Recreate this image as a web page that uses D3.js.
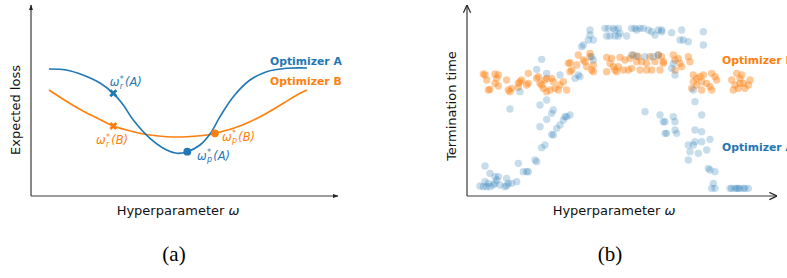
<!DOCTYPE html>
<html>
<head>
<meta charset="utf-8">
<script src="https://cdn.jsdelivr.net/npm/d3@7"></script>
<style>
  html, body { margin: 0; padding: 0; background: #fff; }
  svg { display: block; }
  text { font-family: "DejaVu Sans", sans-serif; }
</style>
</head>
<body>
<svg id="chart" width="787" height="278"></svg>
<script>
// ---------- Panel (a): expected loss curves ----------
const curveAx = [1.8, 3.5, 5.2, 6.9, 8.23, 9.23, 10.23, 11.9, 13.57, 14.57, 15.63, 16.9, 17.9, 18.9, 20.23, 21.9, 23.57, 25.57, 27.6];
const curveAy = [12.7, 12.6, 12.1, 11.3, 10.27, 9.1, 7.6, 5.77, 4.6, 4.27, 4.43, 5.1, 6.2, 7.93, 9.93, 11.6, 12.43, 12.77, 12.8];
const curveBx = [1.8, 3.5, 5.2, 6.9, 8.23, 10.23, 11.9, 13.57, 15.57, 17.57, 18.4, 20.23, 21.9, 23.57, 25.23, 26.9, 27.6];
const curveBy = [10.6, 9.5, 8.5, 7.65, 7.0, 6.43, 6.1, 5.93, 5.93, 6.1, 6.27, 6.77, 7.43, 8.27, 9.27, 10.27, 10.6];
// optimum markers: [x, y]
const robustA = [8.23, 10.27], robustB = [8.23, 7.0];
const peakA = [15.63, 4.43], peakB = [18.4, 6.27];
const seriesNames = ["Optimizer A", "Optimizer B"];
const panelLabels = ["(a)", "(b)"];

// ---------- Panel (b): termination time scatter ----------
const pointsB = [
  [13.0,37.8],[13.5,37.5],[16.5,37.8],[17.5,37.5],[17.0,36.5],[16.5,35.0],[15.0,33.2],[14.5,33.0],[14.0,36.0],[17.5,34.2],
  [20.0,36.0],[20.5,33.0],[21.0,32.5],[21.5,33.5],[23.5,35.0],[24.0,35.5],[24.5,36.0],[23.5,33.8],[26.5,38.0],[26.0,34.5],[26.5,35.0],
  [29.0,36.5],[29.5,37.0],[30.0,35.0],[30.5,34.5],[31.0,33.5],[31.5,36.0],[32.0,36.5],[32.0,32.5],[33.0,33.0],[33.5,36.5],
  [34.0,35.5],[34.5,33.5],[35.5,33.0],[36.0,34.5],[37.0,35.5],[38.0,33.0],[38.5,41.0],[39.0,38.5],
  [41.5,43.5],[39.0,41.2],[39.5,39.0],[41.0,40.5],[43.0,42.0],[43.5,41.5],[44.0,40.0],[45.0,43.0],[45.0,44.0],[45.5,39.0],[46.0,38.5],[46.0,40.5],
  [50.0,42.8],[51.0,41.0],[50.0,38.5],[51.5,42.5],[52.0,40.0],[52.5,39.0],[53.0,38.5],[53.5,40.0],[54.0,42.8],[55.0,39.0],[55.5,42.0],[56.5,39.0],
  [57.0,42.5],[57.5,39.5],[58.0,43.5],[59.0,41.5],[59.5,43.0],[60.0,39.0],[60.5,41.5],[62.0,41.0],[62.0,39.0],[63.0,43.0],[63.5,39.0],
  [64.5,41.5],[65.5,43.5],[66.0,39.0],[66.5,43.0],[67.0,41.0],[67.0,41.5],
  [70.0,43.5],[70.5,42.0],[71.5,42.5],[72.0,41.0],[72.5,40.0],[74.5,43.0],[75.0,41.5],[70.5,39.0],
  [76.0,37.5],[76.0,35.5],[75.5,33.5],[77.0,36.5],[77.0,34.5],[78.0,37.0],[78.5,35.5],[78.5,33.0],[79.0,37.5],[80.0,35.0],
  [81.0,34.0],[81.5,33.0],[81.5,38.0],[82.5,37.0],[83.0,36.0],
  [87.5,36.0],[88.0,33.0],[88.5,34.5],[89.0,38.0],[89.5,33.5],[90.0,36.5],[90.0,35.0],[90.5,37.5],[91.0,35.0],[91.5,33.5],[92.5,34.5],[93.0,36.0]
];
const pointsA = [
  [30.5,42.2],[29.0,39.2],[32.0,38.0],[36.0,37.5],[24.0,32.5],[21.0,27.3],[32.0,30.0],[30.0,28.5],[34.0,27.0],[32.0,24.2],
  [30.0,22.0],[33.5,26.0],[37.0,24.0],[37.5,25.0],[38.0,25.0],[39.0,25.5],[36.0,22.5],[35.0,21.5],[34.0,19.5],[33.5,19.7],
  [31.5,16.5],[30.5,15.7],[28.5,12.0],[29.0,11.5],[26.0,8.5],[26.5,8.5],[25.0,8.5],[23.5,11.0],
  [13.5,10.2],[15.0,8.0],[17.5,7.0],[16.5,7.0],[17.0,6.0],[16.5,5.0],[16.0,4.5],[15.0,4.0],[14.0,4.0],[13.0,4.0],[12.0,4.2],
  [13.5,5.5],[20.0,6.5],[20.5,5.0],[20.0,4.3],[21.5,5.0],[23.0,5.5],[18.0,4.5],[19.5,4.0],[14.5,5.0],
  [49.5,51.5],[50.5,51.5],[52.0,51.5],[52.5,51.0],[53.5,51.5],[54.0,50.0],[50.0,49.2],[51.0,49.2],[52.5,49.2],[53.5,49.2],
  [56.0,49.2],[57.5,51.5],[58.5,51.5],[59.0,51.0],[60.0,51.5],[61.0,51.5],[62.5,51.0],[63.5,50.5],[64.5,49.5],[65.5,51.0],
  [66.5,51.0],[45.0,51.0],[45.0,49.5],[44.5,48.0],[46.0,48.0],[43.0,46.5],[42.5,46.0],[45.5,43.0],[46.0,42.0],
  [41.5,37.5],[40.5,36.5],[42.0,37.0],[61.5,26.5],[66.0,25.5],[67.0,23.5],[67.5,20.0],
  [57.5,43.5],[59.0,43.2],[61.5,43.0],[64.0,43.0],[65.5,43.5],
  [66.5,50.5],[69.5,50.2],[72.5,51.0],[72.0,48.0],[73.0,48.0],[74.5,47.5],[79.0,50.5],[79.0,46.5],
  [70.0,41.0],[70.5,37.5],[69.5,39.5],[76.0,33.0],[76.5,29.5],[78.5,25.5],
  [70.0,25.0],[70.5,23.5],[67.5,23.5],[68.0,20.0],[70.5,21.0],[71.0,20.0],[76.5,21.0],[78.5,20.5],[81.0,18.2],
  [76.5,17.5],[74.5,16.5],[76.0,16.5],[78.5,17.5],[75.0,14.5],[77.5,14.0],[80.0,15.0],[74.5,12.0],
  [80.5,9.5],[81.0,9.0],[82.5,8.5],[82.0,5.0],[81.5,3.5],[82.5,3.5],
  [87.0,3.5],[87.5,3.5],[88.5,3.5],[89.0,3.5],[89.5,3.5],[90.0,3.5],[91.0,3.5],[91.5,3.5],[92.5,3.5]
];

const BLUE = "#1f77b4", ORANGE = "#ff7f0e", AXIS = "#3a3a3a";
const svg = d3.select("#chart");

// arrow markers
const defs = svg.append("defs");
defs.append("marker").attr("id", "filled").attr("viewBox", "0 0 10 10")
  .attr("refX", 9).attr("refY", 5).attr("markerWidth", 6).attr("markerHeight", 6)
  .attr("markerUnits", "userSpaceOnUse").attr("orient", "auto")
  .append("path").attr("d", "M0,1.5 L10,5 L0,8.5 Z").attr("fill", "#222");
defs.append("marker").attr("id", "open").attr("viewBox", "0 0 10 10")
  .attr("refX", 9.5).attr("refY", 5).attr("markerWidth", 9).attr("markerHeight", 9)
  .attr("markerUnits", "userSpaceOnUse").attr("orient", "auto")
  .append("path").attr("d", "M1,1 L9.5,5 L1,9").attr("fill", "none").attr("stroke", "#222").attr("stroke-width", 1.3);

function drawAxes(x, y, marker) {
  const xa = svg.append("g").attr("transform", `translate(0,${y.range()[0]})`)
    .call(d3.axisBottom(x).tickValues([]).tickSizeOuter(0));
  const ya = svg.append("g").attr("transform", `translate(${x.range()[0]},0)`)
    .call(d3.axisLeft(y).tickValues([]).tickSizeOuter(0));
  [xa, ya].forEach(a => a.select(".domain")
    .attr("stroke", AXIS).attr("stroke-width", 1.2).attr("marker-end", `url(#${marker})`));
  ya.select(".domain").attr("d", `M0,${y.range()[0]}V${y.range()[1]}`);
  xa.select(".domain").attr("d", `M${x.range()[0]},0H${x.range()[1]}`);
}

// ---------- Panel (a) ----------
const xA = d3.scaleLinear().domain([0, 30.7]).range([31, 338]);
const yA = d3.scaleLinear().domain([0, 19.1]).range([196, 5]);
drawAxes(xA, yA, "filled");

const line = (xs, ys, sx, sy) => d3.line().curve(d3.curveCatmullRom.alpha(0.5))
  .x((d, i) => sx(xs[i])).y((d, i) => sy(ys[i]))(xs);

svg.append("path").attr("d", line(curveBx, curveBy, xA, yA))
  .attr("fill", "none").attr("stroke", ORANGE).attr("stroke-width", 1.6);
svg.append("path").attr("d", line(curveAx, curveAy, xA, yA))
  .attr("fill", "none").attr("stroke", BLUE).attr("stroke-width", 1.6);

const xSym = d3.symbol().type(d3.symbolCross).size(40);
[[robustA, BLUE], [robustB, ORANGE]].forEach(([p, c]) => {
  svg.append("path").attr("d", xSym())
    .attr("transform", `translate(${xA(p[0])},${yA(p[1])}) rotate(45)`).attr("fill", c);
});
[[peakA, BLUE], [peakB, ORANGE]].forEach(([p, c]) => {
  svg.append("circle").attr("cx", xA(p[0])).attr("cy", yA(p[1])).attr("r", 3.9).attr("fill", c);
});

// ω*_sub(arg) as one text element with stacked super/subscript tspans
function mathLabel(x, y, sub, arg, color) {
  const fs = 11.5, ss = 8;
  const t = svg.append("text").attr("x", x).attr("y", y).attr("font-size", fs).attr("fill", color);
  t.append("tspan").style("font-style", "italic").text("ω");
  const sup = t.append("tspan").attr("font-size", ss).attr("dx", 0.3).attr("dy", -4.5).text("*");
  const wSup = sup.node().getComputedTextLength();
  const sb = t.append("tspan").attr("font-size", ss).style("font-style", "italic")
    .attr("dx", -wSup).attr("dy", 7).text(sub);
  const wSub = sb.node().getComputedTextLength();
  t.append("tspan").style("font-style", "italic")
    .attr("dx", Math.max(wSup, wSub) - wSub + 1.2).attr("dy", -2.5).text(`(${arg})`);
}
mathLabel(xA(robustA[0]) - 3.5, 86, "r", "A", BLUE);
mathLabel(96, 144, "r", "B", ORANGE);
mathLabel(222, 140.5, "p", "B", ORANGE);
mathLabel(197, 159.5, "p", "A", BLUE);

svg.append("text").attr("x", 270).attr("y", 65).attr("font-size", 10.8).attr("font-weight", "bold")
  .attr("fill", BLUE).text(seriesNames[0]);
svg.append("text").attr("x", 270).attr("y", 85).attr("font-size", 10.8).attr("font-weight", "bold")
  .attr("fill", ORANGE).text(seriesNames[1]);

svg.append("text").attr("transform", "translate(20,110) rotate(-90)").attr("text-anchor", "middle")
  .attr("font-size", 13).attr("fill", "#111").text("Expected loss");
const xl1 = svg.append("text").attr("x", 178).attr("y", 214.5).attr("text-anchor", "middle")
  .attr("font-size", 13).attr("fill", "#111");
xl1.append("tspan").text("Hyperparameter ");
xl1.append("tspan").style("font-style", "italic").text("ω");

// ---------- Panel (b) ----------
const xB = d3.scaleLinear().domain([8.1, 101.1]).range([467, 777]);
const yB = d3.scaleLinear().domain([1.2, 58.5]).range([196, 5]);
drawAxes(xB, yB, "open");

svg.append("g").selectAll("circle").data(pointsB).join("circle")
  .attr("cx", d => xB(d[0])).attr("cy", d => yB(d[1])).attr("r", 3.7)
  .attr("fill", ORANGE).attr("fill-opacity", 0.42);
svg.append("g").selectAll("circle").data(pointsA).join("circle")
  .attr("cx", d => xB(d[0])).attr("cy", d => yB(d[1])).attr("r", 3.7)
  .attr("fill", BLUE).attr("fill-opacity", 0.25);

svg.append("text").attr("x", 722).attr("y", 64).attr("font-size", 10.8).attr("font-weight", "bold")
  .attr("fill", ORANGE).text(seriesNames[1]);
svg.append("text").attr("x", 722).attr("y", 151).attr("font-size", 10.8).attr("font-weight", "bold")
  .attr("fill", BLUE).text(seriesNames[0]);

svg.append("text").attr("transform", "translate(456,106) rotate(-90)").attr("text-anchor", "middle")
  .attr("font-size", 13).attr("fill", "#111").text("Termination time");
const xl2 = svg.append("text").attr("x", 614).attr("y", 214.5).attr("text-anchor", "middle")
  .attr("font-size", 13).attr("fill", "#111");
xl2.append("tspan").text("Hyperparameter ");
xl2.append("tspan").style("font-style", "italic").text("ω");

// ---------- captions ----------
[[174, panelLabels[0]], [610, panelLabels[1]]].forEach(([x, t]) => {
  svg.append("text").attr("x", x).attr("y", 261).attr("text-anchor", "middle")
    .style("font-family", "'Liberation Serif', 'Times New Roman', serif").attr("font-size", 21)
    .attr("fill", "#000").text(t);
});
</script>
</body>
</html>
